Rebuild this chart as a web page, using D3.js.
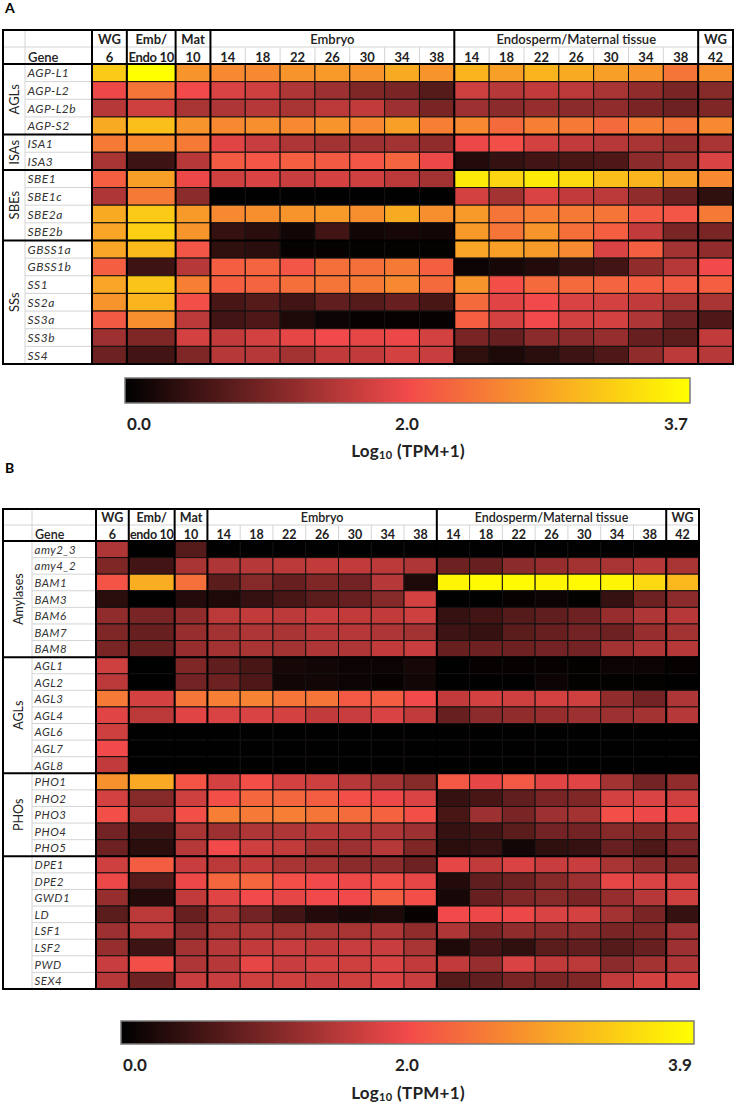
<!DOCTYPE html>
<html><head><meta charset="utf-8">
<script src="https://cdn.jsdelivr.net/npm/d3@7"></script>
<style>body{margin:0;background:#fff} svg{display:block;font-family:Lato,"Open Sans",sans-serif}</style>
</head><body>
<svg id="chart" width="748" height="1105"></svg>
<script>
// ---------------- DATA ----------------
const headerTopA = [["WG",1],["Emb/",1],["Mat",1],["Embryo",7],["Endosperm/Maternal tissue",7],["WG",1]];
const headerBottomA = ["6","Endo 10","10","14","18","22","26","30","34","38","14","18","22","26","30","34","38","42"];
const headerTopB = [["WG",1],["Emb/",1],["Mat",1],["Embryo",7],["Endosperm/Maternal tissue",7],["WG",1]];
const headerBottomB = ["6","endo 10","10","14","18","22","26","30","34","38","14","18","22","26","30","34","38","42"];

const genesA = ["AGP-L1","AGP-L2","AGP-L2b","AGP-S2","ISA1","ISA3","SBE1","SBE1c","SBE2a","SBE2b","GBSS1a","GBSS1b","SS1","SS2a","SS3a","SS3b","SS4"];
const groupsA = [["AGLs",4],["ISAs",2],["SBEs",4],["SSs",7]];
const valuesA = [
 [3.2,3.7,2.7,2.6,2.6,2.7,2.75,2.7,2.9,2.7,3.0,2.8,3.0,2.9,2.8,2.7,2.4,2.65],
 [1.95,2.4,2.0,1.8,1.7,1.45,1.3,1.05,1.0,0.7,1.7,1.5,1.6,1.55,1.4,1.2,1.0,1.1],
 [1.5,1.7,1.4,1.45,1.5,1.4,1.55,1.6,1.3,1.0,1.3,1.15,1.25,1.15,1.2,1.0,0.9,1.05],
 [2.9,3.1,2.7,2.6,2.65,2.6,2.7,2.6,2.8,2.5,2.6,2.3,2.5,2.45,2.3,2.5,2.4,2.6],
 [2.45,2.6,2.45,1.85,1.65,1.45,1.35,1.3,1.35,1.2,1.95,2.05,1.75,1.6,1.5,1.4,1.25,1.4],
 [1.4,0.5,1.5,2.15,2.1,2.2,2.15,2.1,2.25,1.95,0.3,0.45,0.55,0.6,0.65,1.15,1.35,1.8],
 [2.2,2.8,1.95,1.7,1.8,1.65,1.75,1.7,1.55,1.35,3.5,3.3,3.5,3.35,3.1,3.0,2.8,2.6],
 [1.45,2.45,1.15,0.02,0.02,0.02,0.02,0.02,0.02,0.02,1.75,1.35,1.8,1.6,1.55,1.2,0.85,0.4],
 [2.9,3.2,2.75,2.6,2.65,2.7,2.75,2.65,2.9,2.65,2.75,2.4,2.5,2.45,2.4,2.15,2.1,2.45],
 [2.85,3.25,2.7,0.45,0.35,0.15,0.55,0.15,0.2,0.15,2.75,2.4,2.7,2.35,2.2,1.6,1.0,1.0],
 [2.85,3.05,2.1,0.4,0.35,0.05,0.05,0.03,0.03,0.03,2.85,2.8,2.75,2.6,1.8,2.2,1.35,1.2],
 [2.2,0.5,1.5,2.2,2.25,2.1,2.35,2.35,2.45,2.2,0.1,0.2,0.3,0.45,0.55,1.2,1.5,2.0],
 [2.85,3.15,2.5,2.2,2.25,2.35,2.4,2.45,2.6,2.3,2.7,2.05,2.3,2.3,2.25,2.2,2.15,2.2],
 [2.7,3.0,2.05,0.6,0.7,0.55,0.8,0.7,0.85,0.6,2.3,1.85,2.0,1.8,1.75,1.6,1.4,1.4],
 [2.15,2.65,1.55,0.55,0.65,0.25,0.1,0.05,0.05,0.05,2.2,1.75,2.0,1.75,1.75,1.45,0.9,0.65],
 [1.3,1.05,1.75,1.6,1.75,1.9,2.0,1.9,1.95,1.75,1.0,0.85,1.15,1.15,1.25,0.85,0.75,1.6],
 [0.9,0.55,1.05,1.5,1.5,1.35,1.6,1.6,1.75,1.65,0.4,0.25,0.35,0.5,0.65,1.2,1.55,1.5]
];
const ticksA = [0, 2, 3.7];

const genesB = ["amy2_3","amy4_2","BAM1","BAM3","BAM6","BAM7","BAM8","AGL1","AGL2","AGL3","AGL4","AGL6","AGL7","AGL8","PHO1","PHO2","PHO3","PHO4","PHO5","DPE1","DPE2","GWD1","LD","LSF1","LSF2","PWD","SEX4"];
const groupsB = [["Amylases",7],["AGLs",7],["PHOs",5],["",8]];
const valuesB = [
 [1.45,0.02,0.7,0.02,0.02,0.02,0.02,0.02,0.02,0.02,0.02,0.02,0.02,0.02,0.02,0.02,0.02,0.02],
 [1.05,0.55,1.4,1.45,1.5,1.55,1.6,1.6,1.55,1.45,0.9,0.85,1.15,1.25,1.35,1.4,1.5,1.4],
 [2.1,3.05,2.4,0.75,1.1,0.85,1.05,0.95,1.5,0.25,3.8,3.85,3.85,3.8,3.85,3.8,3.5,3.15],
 [0.35,0.02,0.3,0.25,0.45,0.6,0.75,0.85,1.1,1.75,0.02,0.02,0.05,0.1,0.03,0.45,0.9,1.15],
 [1.2,1.0,1.2,1.55,1.6,1.55,1.65,1.6,1.6,1.7,0.45,0.55,0.7,0.8,0.9,1.25,1.45,1.5],
 [1.05,0.85,1.25,1.35,1.45,1.4,1.5,1.5,1.45,1.35,0.5,0.45,0.75,0.85,0.95,0.9,1.25,1.35],
 [1.0,0.85,1.25,1.35,1.4,1.35,1.45,1.45,1.6,1.65,0.85,0.9,0.9,0.95,0.95,1.35,1.45,1.5],
 [1.7,0.02,1.05,0.8,0.6,0.2,0.15,0.1,0.1,0.2,0.02,0.05,0.05,0.05,0.03,0.1,0.1,0.05],
 [1.55,0.02,0.95,0.9,0.65,0.15,0.15,0.1,0.05,0.15,0.02,0.02,0.02,0.1,0.03,0.03,0.03,0.02],
 [2.5,1.75,2.45,2.55,2.6,2.45,2.45,2.15,2.2,2.0,1.6,1.75,1.7,1.75,1.7,1.2,0.95,1.45],
 [1.85,1.55,1.85,1.8,1.8,1.75,1.6,1.65,1.8,1.6,0.85,1.15,1.2,1.25,1.3,1.3,1.35,1.5],
 [1.7,0.02,0.02,0.02,0.02,0.02,0.02,0.02,0.02,0.02,0.02,0.02,0.02,0.02,0.02,0.02,0.02,0.02],
 [2.0,0.02,0.02,0.02,0.02,0.02,0.02,0.02,0.02,0.02,0.02,0.02,0.02,0.02,0.02,0.02,0.02,0.02],
 [1.6,0.02,0.02,0.02,0.02,0.02,0.02,0.02,0.02,0.02,0.02,0.02,0.02,0.02,0.02,0.02,0.02,0.02],
 [2.75,3.0,2.1,1.75,2.05,1.75,1.7,1.5,1.35,1.1,2.15,1.9,2.15,1.85,1.85,1.35,0.95,1.2],
 [1.75,1.1,1.7,2.05,2.3,2.3,2.2,2.05,1.95,1.8,0.45,0.6,0.8,1.0,1.05,1.75,1.8,1.7],
 [2.05,1.4,2.05,2.55,2.5,2.55,2.45,2.35,2.25,2.05,0.6,1.3,1.0,1.3,1.35,2.05,1.95,1.95],
 [0.95,0.55,1.4,1.3,1.45,1.45,1.5,1.45,1.45,1.3,0.45,0.55,0.75,0.95,0.95,1.1,1.05,1.2],
 [0.9,0.35,1.5,2.0,1.7,1.6,1.35,1.3,1.5,1.05,0.35,0.45,0.15,0.4,0.45,0.85,0.65,0.95],
 [1.7,2.2,1.65,1.55,1.6,1.4,1.35,1.15,1.15,0.9,1.9,1.6,1.8,1.65,1.65,1.4,1.15,1.05],
 [1.95,0.7,1.95,2.3,2.3,2.05,2.0,1.95,2.05,1.9,0.3,0.8,0.9,1.1,1.3,1.9,1.8,1.8],
 [1.25,0.3,1.6,1.85,2.0,1.9,2.0,2.0,2.2,2.05,0.2,0.85,1.05,1.1,1.0,1.25,1.5,1.7],
 [0.75,1.55,0.85,1.35,0.95,0.55,0.3,0.2,0.25,0.05,2.0,1.95,1.95,1.8,1.75,1.35,1.0,0.45],
 [1.3,1.55,1.15,1.4,1.45,1.4,1.4,1.4,1.45,1.2,1.45,1.0,1.2,1.15,1.15,1.0,1.05,1.3],
 [1.25,0.5,1.35,1.5,1.6,1.65,1.6,1.65,1.65,1.4,0.25,0.55,0.4,0.75,0.8,0.7,0.85,1.3],
 [1.65,2.05,1.45,1.5,1.9,1.65,1.75,1.7,1.8,1.6,1.6,1.25,1.8,1.6,1.55,1.15,1.35,1.45],
 [1.5,0.9,1.65,1.65,1.7,1.7,1.65,1.7,1.8,1.65,0.7,0.8,1.0,1.0,1.05,1.6,1.75,1.75]
];
const ticksB = [0, 2, 3.9];
const legendTitle = ["Log", "10", " (TPM+1)"];

// ---------------- LAYOUT ----------------
const svg = d3.select("#chart");
const colors = ["#000000", "#f24a4a", "#ffff00"];

function drawPanel(o) {
  const g = svg.append("g");
  const nCols = o.bottom.length;
  const weights = o.bottom.map((d, i) => i === 1 ? 1.4 : 1);
  const cum = [0]; weights.forEach(w => cum.push(cum[cum.length - 1] + w));
  const x = d3.scaleLinear().domain([0, cum[nCols]]).range([o.dataX0, o.right]);
  const y = d3.scaleBand().domain(o.genes).range([o.rowsY0, o.rowsY1]);
  const max = o.ticks[o.ticks.length - 1];
  const color = d3.scaleLinear().domain([0, 2, max]).range(colors).interpolate(d3.interpolateRgb).clamp(true);

  // panel letter
  g.append("text").attr("x", 5).attr("y", o.letterY).attr("font-size", 14).attr("font-weight", 700).text(o.letter);

  // cells
  const cells = [];
  o.values.forEach((row, r) => row.forEach((v, c) => cells.push({r, c, v})));
  g.append("g").selectAll("rect").data(cells).join("rect")
    .attr("x", d => x(cum[d.c])).attr("y", d => y(o.genes[d.r]))
    .attr("width", d => x(cum[d.c + 1]) - x(cum[d.c])).attr("height", y.bandwidth())
    .attr("fill", d => color(d.v)).attr("stroke", "#141010").attr("stroke-width", 1);

  // light grid in label area and header
  const lg = g.append("g").attr("stroke", "#d4d4d4").attr("stroke-width", 1);
  o.genes.forEach((gn, i) => {
    if (i > 0) lg.append("line").attr("x1", o.geneX0).attr("x2", o.dataX0).attr("y1", y(gn)).attr("y2", y(gn));
  });
  lg.append("line").attr("x1", o.geneX0).attr("x2", o.geneX0).attr("y1", o.top).attr("y2", o.rowsY1);
  lg.append("line").attr("x1", o.left).attr("x2", o.right).attr("y1", o.midY).attr("y2", o.midY);
  for (let c = 1; c < nCols; c++) lg.append("line").attr("x1", x(cum[c])).attr("x2", x(cum[c])).attr("y1", o.midY).attr("y2", o.rowsY0);

  // header text
  const ht = g.append("g").attr("text-anchor", "middle").attr("font-size", o.hfs).attr("fill", "#222");
  let k = 0;
  const bounds = [];
  o.top_.forEach(([lab, span]) => {
    const a = x(cum[k]), b = x(cum[k + span]);
    bounds.push(a);
    ht.append("text").attr("x", (a + b) / 2).attr("y", o.hy1).attr("font-weight", span > 1 ? 600 : 700).text(lab);
    k += span;
  });
  o.bottom.forEach((lab, i) => {
    ht.append("text").attr("x", (x(cum[i]) + x(cum[i + 1])) / 2).attr("y", o.hy2).attr("font-weight", 700)
      .attr("letter-spacing", lab.length > 3 ? -0.3 : 0).text(lab);
  });
  g.append("text").attr("x", o.geneX0 + 3).attr("y", o.hy2).attr("font-size", o.hfs).attr("font-weight", 600).attr("fill", "#222").text("Gene");

  // gene labels
  g.append("g").selectAll("text").data(o.genes).join("text")
    .attr("x", o.geneX0 + 2.5).attr("y", d => y(d) + y.bandwidth() / 2 + 4.5)
    .attr("font-size", o.gfs).attr("font-style", "italic").attr("fill", "#333").attr("letter-spacing", 0.5).text(d => d);

  // group labels and separators
  let start = 0;
  o.groups.forEach(([name, n], gi) => {
    const y0 = y(o.genes[start]), y1 = y(o.genes[start + n - 1]) + y.bandwidth();
    if (name) g.append("text").attr("transform", `translate(${(o.left + o.geneX0) / 2 + 5},${(y0 + y1) / 2}) rotate(-90)`)
      .attr("text-anchor", "middle").attr("font-size", o.grfs).attr("fill", "#222").text(name);
    if (gi > 0) g.append("line").attr("x1", o.left).attr("x2", o.right).attr("y1", y0).attr("y2", y0).attr("stroke", "#000").attr("stroke-width", 2);
    start += n;
  });

  // thick lines
  const th = g.append("g").attr("stroke", "#000").attr("stroke-width", 2);
  bounds.forEach(bx => th.append("line").attr("x1", bx).attr("x2", bx).attr("y1", o.top).attr("y2", o.rowsY1));
  th.append("line").attr("x1", o.left).attr("x2", o.right).attr("y1", o.rowsY0).attr("y2", o.rowsY0);
  th.append("rect").attr("x", o.left).attr("y", o.top).attr("width", o.right - o.left).attr("height", o.rowsY1 - o.top).attr("fill", "none");

  // color bar
  const gid = "grad" + o.letter;
  const grad = svg.append("defs").append("linearGradient").attr("id", gid);
  const ls = d3.scaleLinear().domain([0, 2, max]).range([0, 0.5, 1]);
  d3.range(0, 41).map(i => i / 40).forEach(t => {
    grad.append("stop").attr("offset", t).attr("stop-color", color(ls.invert(t)));
  });
  g.append("rect").attr("x", o.barX0).attr("y", o.barY).attr("width", o.barX1 - o.barX0).attr("height", o.barH)
    .attr("fill", `url(#${gid})`).attr("stroke", "#7a7a7a").attr("stroke-width", 1.5);
  const lx = d3.scaleLinear().domain([0, 2, max]).range(o.tickX);
  g.append("g").selectAll("text").data(o.ticks).join("text")
    .attr("x", d => lx(d)).attr("y", o.tickY).attr("text-anchor", "middle")
    .attr("font-size", 17).attr("font-weight", 700).attr("fill", "#222").text(d3.format(".1f"));
  const tt = g.append("text").attr("x", o.titleX).attr("y", o.titleY).attr("text-anchor", "middle")
    .attr("font-size", 17).attr("font-weight", 700).attr("fill", "#222").attr("letter-spacing", 0.3);
  tt.append("tspan").text(legendTitle[0]);
  tt.append("tspan").attr("font-size", 11).attr("dy", 2).text(legendTitle[1]);
  tt.append("tspan").attr("dy", -2).text(legendTitle[2]);
}

drawPanel({
  letter: "A", letterY: 13, genes: genesA, groups: groupsA, values: valuesA, top_: headerTopA, bottom: headerBottomA, ticks: ticksA,
  hfs: 13, gfs: 12, grfs: 13,
  left: 3, geneX0: 25, dataX0: 92, right: 733, top: 30, midY: 47, rowsY0: 64, rowsY1: 364, hy1: 44, hy2: 61.5,
  barX0: 125, barX1: 690, barY: 378, barH: 25, tickX: [139, 407, 676], tickY: 430, titleX: 408, titleY: 457
});
drawPanel({
  letter: "B", letterY: 473, genes: genesB, groups: groupsB, values: valuesB, top_: headerTopB, bottom: headerBottomB, ticks: ticksB,
  hfs: 12.5, gfs: 11.5, grfs: 12.5,
  left: 3, geneX0: 32, dataX0: 96, right: 699, top: 509, midY: 525, rowsY0: 541, rowsY1: 989, hy1: 522, hy2: 539,
  barX0: 121, barX1: 694, barY: 1021, barH: 23, tickX: [135, 407, 680], tickY: 1071, titleX: 408, titleY: 1099
});
</script>
</body></html>
